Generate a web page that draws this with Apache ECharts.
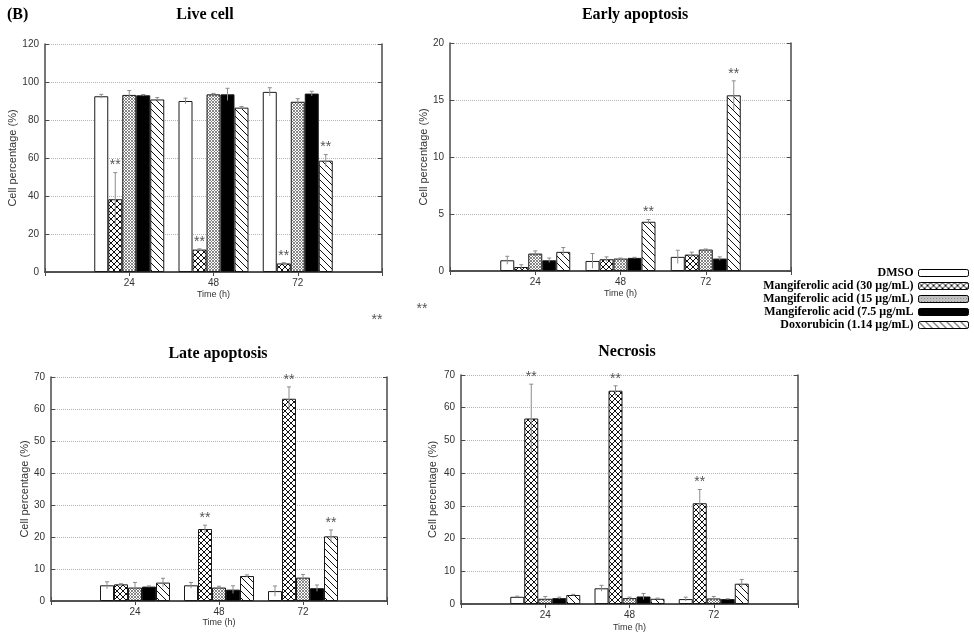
<!DOCTYPE html>
<html><head><meta charset="utf-8">
<script src="https://cdn.jsdelivr.net/npm/echarts@6/dist/echarts.min.js"></script>
<style>html,body{margin:0;padding:0;background:#fff}#c{width:974px;height:634px}</style>
</head><body><div id="c"></div>
<script>
// ---------- data ----------
const timePoints = ['24', '48', '72'];
const seriesNames = ['DMSO', 'Mangiferolic acid (30 μg/mL)', 'Mangiferolic acid (15 μg/mL)', 'Mangiferolic acid (7.5 μg/mL', 'Doxorubicin (1.14 μg/mL)'];
const panelTitles = ['Live cell', 'Early apoptosis', 'Late apoptosis', 'Necrosis'];

// rows: DMSO, MA30, MA15, MA7.5, Dox ; columns: 24h, 48h, 72h
const liveMean = [[92.5, 90.0, 94.8], [38.3, 11.8, 4.5], [93.2, 93.5, 89.6], [93.0, 93.5, 93.9], [90.8, 86.5, 58.6]];
const liveErr  = [[1.0, 1.5, 2.2], [14.0, 0.4, 0.4], [2.3, 0.5, 1.6], [0.4, 3.2, 1.2], [1.0, 0.6, 3.2]];
const liveSig  = [[0, 0, 0], [1, 1, 1], [0, 0, 0], [0, 0, 0], [0, 0, 1]];

const earlyMean = [[0.94, 0.88, 1.24], [0.35, 1.03, 1.44], [1.53, 1.09, 1.88], [0.94, 1.15, 1.09], [1.68, 4.32, 15.41]];
const earlyErr  = [[0.35, 0.65, 0.58], [0.2, 0.21, 0.21], [0.23, 0.05, 0.05], [0.2, 0.05, 0.15], [0.38, 0.2, 1.27]];
const earlySig  = [[0, 0, 0], [0, 0, 0], [0, 0, 0], [0, 0, 0], [0, 1, 1]];

const lateMean = [[4.9, 4.9, 3.1], [5.2, 22.5, 63.2], [4.2, 4.2, 7.3], [4.5, 3.55, 4.0], [5.75, 7.8, 20.2]];
const lateErr  = [[1.1, 0.9, 1.6], [0.2, 1.2, 3.7], [1.6, 0.4, 1.0], [0.2, 1.2, 1.0], [1.35, 0.35, 2.0]];
const lateSig  = [[0, 0, 0], [0, 1, 1], [0, 0, 0], [0, 0, 0], [0, 0, 1]];

const necMean = [[2.2, 4.8, 1.5], [56.7, 65.2, 30.8], [1.6, 1.8, 1.7], [1.8, 2.3, 1.5], [2.75, 1.6, 6.2]];
const necErr  = [[0.2, 0.9, 0.6], [10.5, 1.5, 4.2], [0.7, 0.3, 0.6], [0.3, 0.9, 0.1], [0.2, 0.2, 1.3]];
const necSig  = [[0, 0, 0], [1, 1, 1], [0, 0, 0], [0, 0, 0], [0, 0, 0]];

const yMaxes = [120, 20, 70, 70];
const yIntervals = [20, 5, 10, 10];

// ---------- styles ----------
const BW = 14;
const SERIF = '"Liberation Serif", "Times New Roman", serif';
const SANS = '"Liberation Sans", Arial, sans-serif';
const axisCol = '#4a4a4a';

function makePattern(kind) {
  const c = document.createElement('canvas');
  let s = kind === 'cross' ? 6 : kind === 'fine' ? 3 : 7;
  c.width = c.height = s;
  const g = c.getContext('2d');
  g.fillStyle = '#fff'; g.fillRect(0, 0, s, s);
  g.beginPath();
  if (kind === 'cross') {
    g.strokeStyle = '#111'; g.lineWidth = 1;
    g.moveTo(-1, -1); g.lineTo(s + 1, s + 1);
    g.moveTo(s + 1, -1); g.lineTo(-1, s + 1);
  } else if (kind === 'fine') {
    g.strokeStyle = '#6a6a6a'; g.lineWidth = 0.8;
    g.moveTo(-1, -1); g.lineTo(s + 1, s + 1);
    g.moveTo(s + 1, -1); g.lineTo(-1, s + 1);
  } else {
    g.strokeStyle = '#111'; g.lineWidth = 1;
    g.moveTo(-1, -1); g.lineTo(s + 1, s + 1);
  }
  g.stroke();
  return { image: c, repeat: 'repeat' };
}
const fills = ['#ffffff', makePattern('cross'), makePattern('fine'), '#000000', makePattern('diag')];

// ---------- layout (pixels) ----------
const grids = [
  { left: 45, top: 44, width: 337, height: 228 },
  { left: 450, top: 43, width: 341, height: 228 },
  { left: 51, top: 377, width: 336, height: 224 },
  { left: 461, top: 375, width: 337, height: 229 }
];
const yNameGaps = [27, 21, 21, 23];
const xNameGaps = [18, 18, 15, 19];
const titlePos = [[205, 7], [635, 7], [218, 346], [627, 344]];

const cats = [' '].concat(timePoints).concat(['  ']);
const panelMeans = [liveMean, earlyMean, lateMean, necMean];
const panelErrs = [liveErr, earlyErr, lateErr, necErr];
const panelSigs = [liveSig, earlySig, lateSig, necSig];

const xAxes = [], yAxes = [], series = [];
const titles = [{ text: '(B)', left: 7, top: 7, padding: 0, textStyle: { fontFamily: SERIF, fontWeight: 'bold', fontSize: 16, color: '#000' } }];

function errRender(params, api) {
  const cat = api.value(0), si = api.value(1), m = api.value(2), e = api.value(3), sig = api.value(4);
  const top = api.coord([cat, m + e]);
  const bot = api.coord([cat, Math.max(0, m - e)]);
  const x = top[0] + (si - 2) * BW;
  const st = { stroke: '#8c8c8c', lineWidth: 1 };
  const ch = [
    { type: 'line', shape: { x1: x, y1: top[1], x2: x, y2: bot[1] }, style: st },
    { type: 'line', shape: { x1: x - 2, y1: top[1], x2: x + 2, y2: top[1] }, style: st }
  ];
  if (sig) ch.push({ type: 'text', style: { text: '**', x: x, y: top[1] - 7, align: 'center', verticalAlign: 'middle', font: '14px ' + SANS, fill: '#555' } });
  return { type: 'group', children: ch };
}

grids.forEach(function (gr, gi) {
  const baseX = { gridIndex: gi, type: 'category', data: cats, boundaryGap: false,
    axisLine: { show: true, lineStyle: { color: axisCol, width: 1.5 } },
    axisTick: { show: true, inside: true, length: 4, lineStyle: { color: axisCol } },
    splitLine: { show: false } };
  xAxes.push(Object.assign({}, baseX, { position: 'bottom',
    name: 'Time (h)', nameLocation: 'middle', nameGap: xNameGaps[gi],
    nameTextStyle: { fontFamily: SANS, fontSize: 9, color: '#333' },
    axisLabel: { fontFamily: SANS, fontSize: 10, color: '#333', margin: 6 } }));
  xAxes.push(Object.assign({}, baseX, { position: 'top', axisLabel: { show: false } }));
  const baseY = { gridIndex: gi, type: 'value', min: 0, max: yMaxes[gi], interval: yIntervals[gi],
    axisLine: { show: true, lineStyle: { color: axisCol, width: 1.5 } },
    axisTick: { show: true, inside: true, length: 4, lineStyle: { color: axisCol } } };
  yAxes.push(Object.assign({}, baseY, { position: 'left',
    name: 'Cell percentage (%)', nameLocation: 'middle', nameGap: yNameGaps[gi], nameRotate: 90,
    nameTextStyle: { fontFamily: SANS, fontSize: 11, color: '#333' },
    axisLabel: { fontFamily: SANS, fontSize: 10, color: '#333', margin: 6 },
    splitLine: { show: true, lineStyle: { color: '#b5b5b5', type: 'dotted', width: 1 } } }));
  yAxes.push(Object.assign({}, baseY, { position: 'right', axisLabel: { show: false }, splitLine: { show: false } }));

  const means = panelMeans[gi], errs = panelErrs[gi], sigs = panelSigs[gi];
  seriesNames.forEach(function (nm, si) {
    series.push({
      name: nm, type: 'bar', xAxisIndex: gi * 2, yAxisIndex: gi * 2,
      barWidth: BW, barGap: '0%',
      data: ['-'].concat(means[si]).concat(['-']),
      itemStyle: { color: fills[si], borderColor: '#1a1a1a', borderWidth: 1 },
      emphasis: { disabled: true }, animation: false
    });
  });
  const ed = [];
  seriesNames.forEach(function (nm, si) {
    timePoints.forEach(function (t, ti) {
      ed.push([ti + 1, si, means[si][ti], errs[si][ti], sigs[si][ti]]);
    });
  });
  series.push({ type: 'custom', xAxisIndex: gi * 2, yAxisIndex: gi * 2, renderItem: errRender,
    data: ed, encode: { x: 0, y: 2 }, clip: false, z: 5, silent: true, animation: false });

  titles.push({ text: panelTitles[gi], left: titlePos[gi][0], top: titlePos[gi][1], textAlign: 'center', padding: 0,
    textStyle: { fontFamily: SERIF, fontWeight: 'bold', fontSize: 16, color: '#000' } });
});

const chart = echarts.init(document.getElementById('c'), null, { renderer: 'canvas' });
chart.setOption({
  animation: false,
  backgroundColor: '#fff',
  title: titles,
  grid: grids.map(function (g) { return Object.assign({ containLabel: false }, g); }),
  xAxis: xAxes,
  yAxis: yAxes,
  legend: {
    data: seriesNames, orient: 'vertical', align: 'right', right: 5, top: 267,
    itemWidth: 50, itemHeight: 7, itemGap: 1, padding: 0, selectedMode: false,
    itemStyle: { borderColor: '#000', borderWidth: 1 },
    textStyle: { fontFamily: SERIF, fontWeight: 'bold', fontSize: 12, color: '#000' }
  },
  graphic: [
    { type: 'text', x: 377, y: 320, style: { text: '**', align: 'center', verticalAlign: 'middle', font: '14px ' + SANS, fill: '#555' } },
    { type: 'text', x: 422, y: 309, style: { text: '**', align: 'center', verticalAlign: 'middle', font: '14px ' + SANS, fill: '#555' } }
  ],
  series: series
});
</script></body></html>
